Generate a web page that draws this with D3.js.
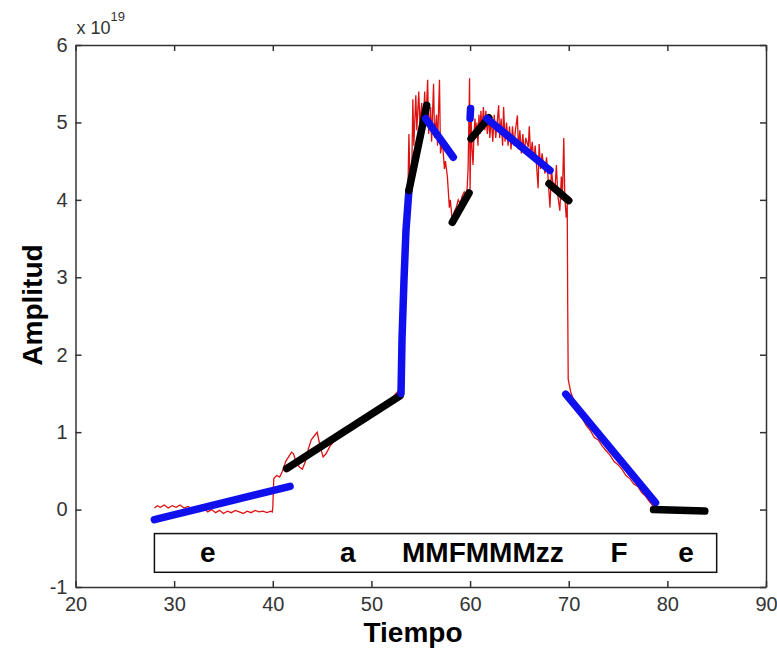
<!DOCTYPE html>
<html>
<head>
<meta charset="utf-8">
<script src="https://cdn.jsdelivr.net/npm/d3@7"></script>
<style>
  body { margin: 0; background: #fff; }
  text { font-family: "Liberation Sans", Arial, sans-serif; }
</style>
</head>
<body>
<svg id="chart" width="777" height="659"></svg>
<script>
// Axis ticks
const xTicks = [20, 30, 40, 50, 60, 70, 80, 90];
const yTicks = [-1, 0, 1, 2, 3, 4, 5, 6];

// Raw signal (Tiempo, Amplitud x 1e19)
const signal = [
  [28.0, 0.02], [28.3, 0.05], [28.6, 0.03], [29.0, 0.06], [29.4, 0.02], [29.8, 0.05],
  [30.2, 0.03], [30.6, 0.06], [31.0, 0.02], [31.4, 0.04], [31.8, 0.01], [32.2, 0.03],
  [32.6, 0.0], [33.0, 0.02], [33.4, -0.03], [33.8, 0.0], [34.2, -0.04], [34.6, -0.01],
  [35.0, -0.05], [35.4, -0.02], [35.8, -0.04], [36.2, -0.01], [36.6, -0.03], [37.0, -0.05],
  [37.4, -0.02], [37.8, -0.04], [38.2, -0.01], [38.6, -0.03], [39.0, -0.02], [39.4, -0.04],
  [39.8, -0.02], [39.95, -0.03], [40.0, 0.02], [40.1, 0.40], [40.4, 0.44], [40.7, 0.42],
  [41.0, 0.50], [41.3, 0.62], [41.6, 0.68], [41.9, 0.74], [42.1, 0.72], [42.4, 0.60],
  [42.7, 0.55], [43.0, 0.52], [43.3, 0.62], [43.6, 0.78], [43.9, 0.90], [44.2, 0.95],
  [44.5, 1.00], [44.8, 0.82], [45.1, 0.68], [45.4, 0.72], [45.8, 0.82], [46.2, 0.88],
  [46.6, 0.92], [47.0, 0.98], [47.5, 1.03], [48.0, 1.08], [48.5, 1.11], [49.0, 1.15],
  [49.5, 1.20], [50.0, 1.25], [50.5, 1.29], [51.0, 1.33], [51.5, 1.38], [52.0, 1.43],
  [52.5, 1.50], [52.9, 1.56], [53.0, 1.70], [53.1, 2.2], [53.2, 2.8], [53.3, 3.3],
  [53.45, 3.8], [53.6, 4.1], [53.7, 4.10], [53.8, 4.85], [53.9, 4.25], [54.1, 4.45],
  [54.2, 5.30], [54.3, 4.70], [54.5, 5.35], [54.6, 4.90], [54.8, 5.40], [54.9, 5.00],
  [55.1, 5.25], [55.2, 4.80], [55.4, 5.40], [55.5, 4.95], [55.7, 5.55], [55.8, 4.85],
  [56.0, 5.20], [56.1, 4.75], [56.3, 5.50], [56.4, 4.80], [56.6, 5.10], [56.7, 4.70],
  [56.9, 5.55], [57.0, 4.60], [57.2, 4.75], [57.4, 4.40], [57.5, 4.50], [57.7, 4.30],
  [57.9, 3.90], [58.0, 4.00], [58.2, 3.72], [58.4, 3.85], [58.6, 3.90], [58.8, 4.00],
  [59.0, 3.95], [59.2, 4.05], [59.4, 4.10], [59.6, 4.00], [59.7, 4.15], [59.8, 4.40],
  [59.95, 5.57], [60.0, 4.10], [60.1, 5.10], [60.2, 4.65], [60.3, 4.45], [60.4, 4.85],
  [60.5, 5.05], [60.6, 4.80], [60.7, 5.00], [60.8, 4.70], [60.9, 5.10], [61.0, 4.85],
  [61.1, 5.15], [61.2, 4.90], [61.35, 5.20], [61.5, 4.90], [61.6, 5.15], [61.75, 4.85],
  [61.9, 5.10], [62.0, 4.80], [62.15, 5.05], [62.3, 4.75], [62.45, 5.10], [62.6, 4.80],
  [62.75, 5.00], [62.9, 5.22], [63.0, 4.80], [63.15, 5.05], [63.3, 4.70], [63.4, 5.20],
  [63.55, 4.75], [63.7, 5.00], [63.85, 4.70], [64.0, 4.95], [64.15, 4.65], [64.3, 4.95],
  [64.45, 4.70], [64.6, 4.90], [64.8, 5.09], [64.9, 4.65], [65.05, 4.90], [65.2, 4.60],
  [65.35, 4.85], [65.5, 4.60], [65.65, 4.80], [65.9, 4.68], [66.0, 4.95], [66.15, 4.55],
  [66.3, 4.75], [66.45, 4.50], [66.6, 4.70], [66.9, 4.15], [67.0, 4.72], [67.15, 4.40],
  [67.3, 4.60], [67.45, 4.45], [67.6, 4.34], [67.75, 4.55], [67.9, 4.30], [68.1, 3.90],
  [68.25, 4.40], [68.4, 4.20], [68.6, 4.12], [68.75, 4.45], [68.9, 4.05], [69.1, 3.86],
  [69.25, 4.30], [69.35, 4.00], [69.5, 4.80], [69.6, 4.05], [69.75, 3.77], [69.85, 3.95],
  [69.9, 2.60], [69.95, 1.68], [70.2, 1.52], [70.6, 1.38], [71.0, 1.24], [71.4, 1.17],
  [71.8, 1.08], [72.2, 1.02], [72.6, 0.93], [73.0, 0.90], [73.4, 0.82], [73.8, 0.76],
  [74.2, 0.70], [74.6, 0.62], [75.0, 0.58], [75.4, 0.52], [75.8, 0.44], [76.2, 0.40],
  [76.6, 0.33], [77.0, 0.30], [77.4, 0.22], [77.8, 0.17], [78.2, 0.10], [78.6, 0.04],
  [79.0, 0.0], [80.0, 0.0], [81.0, -0.01], [82.0, 0.0], [83.0, -0.01], [83.8, -0.02]
];

// Fitted segments, alternating blue / black
const segmentColors = ["blue", "black", "blue", "black", "blue", "black", "blue", "black", "blue", "black", "blue", "black"];
const segments = [
  [[28.0, -0.13], [41.75, 0.30]],
  [[41.4, 0.53], [52.9, 1.47]],
  [[53.0, 1.50], [53.1, 2.2], [53.3, 2.96], [53.5, 3.6], [53.8, 4.12]],
  [[53.8, 4.12], [55.6, 5.22]],
  [[55.5, 5.05], [58.3, 4.55]],
  [[58.2, 3.71], [59.9, 4.09]],
  [[60.0, 5.05], [60.05, 5.18]],
  [[60.1, 4.79], [61.9, 5.06]],
  [[61.7, 5.05], [68.1, 4.38]],
  [[68.0, 4.21], [70.0, 3.99]],
  [[69.7, 1.49], [78.8, 0.09]],
  [[78.6, 0.0], [83.8, -0.02]]
];

// Label strip under the curve
const stripBox = { x0: 28, x1: 85.0, y0: -0.31, y1: -0.81 };
const stripLabels = ["e", "a", "MMFMMMzz", "F", "e"];
const stripLabelX = [33.4, 47.6, 61.3, 75.1, 81.9];

const svg = d3.select("#chart");
const plotLeft = 75.5, plotRight = 766, plotTop = 45, plotBottom = 587;

const xScale = d3.scaleLinear().domain([20, 90]).range([plotLeft, plotRight]);
const yScale = d3.scaleLinear().domain([-1, 6]).range([plotBottom, plotTop]);

/**
 * Draws the box frame with inward ticks on the four sides.
 */
function drawAxes() {
  const tickFont = (g) => g.selectAll("text")
    .attr("font-size", 20)
    .attr("fill", "#333");

  svg.append("g")
    .attr("transform", `translate(0,${plotBottom})`)
    .call(d3.axisBottom(xScale).tickValues(xTicks).tickFormat((d) => String(d))
      .tickSizeInner(-6).tickSizeOuter(0).tickPadding(10))
    .call(tickFont);

  svg.append("g")
    .attr("transform", `translate(0,${plotTop})`)
    .call(d3.axisTop(xScale).tickValues(xTicks).tickSizeInner(-6).tickSizeOuter(0).tickFormat(""));

  svg.append("g")
    .attr("transform", `translate(${plotLeft},0)`)
    .call(d3.axisLeft(yScale).tickValues(yTicks).tickFormat((d) => String(d))
      .tickSizeInner(-6).tickSizeOuter(0).tickPadding(8))
    .call(tickFont);

  svg.append("g")
    .attr("transform", `translate(${plotRight},0)`)
    .call(d3.axisRight(yScale).tickValues(yTicks).tickSizeInner(-6).tickSizeOuter(0).tickFormat(""));

  svg.selectAll(".domain, .tick line").attr("stroke", "#333").attr("stroke-width", 1.5);
  svg.selectAll(".tick text").attr("font-family", "'Liberation Sans', Arial, sans-serif");

  // exponent
  const expo = svg.append("text").attr("x", plotLeft + 1).attr("y", 34).attr("fill", "#333");
  expo.append("tspan").attr("font-size", 18).text("x 10");
  expo.append("tspan").attr("font-size", 13).attr("dy", -13).text("19");

  svg.append("text")
    .attr("x", 413)
    .attr("y", 642)
    .attr("text-anchor", "middle")
    .attr("font-size", 28)
    .attr("font-weight", "bold")
    .text("Tiempo");

  svg.append("text")
    .attr("transform", "translate(42,305) rotate(-90)")
    .attr("text-anchor", "middle")
    .attr("font-size", 28)
    .attr("font-weight", "bold")
    .text("Amplitud");
}

/**
 * Draws the raw signal and the fitted segments on top of it.
 */
function drawLines() {
  const line = d3.line().x((d) => xScale(d[0])).y((d) => yScale(d[1]));

  svg.append("path")
    .datum(signal)
    .attr("d", line)
    .attr("fill", "none")
    .attr("stroke", "#dd1111")
    .attr("stroke-width", 1.3);

  svg.selectAll(".segment")
    .data(segments)
    .join("path")
    .attr("class", "segment")
    .attr("d", line)
    .attr("fill", "none")
    .attr("stroke", (d, i) => (segmentColors[i] === "blue" ? "#1010ee" : "#000"))
    .attr("stroke-width", 7.5)
    .attr("stroke-linecap", "round")
    .attr("stroke-linejoin", "round");
}

/**
 * Draws the framed strip of labels below the curve.
 */
function drawStrip() {
  svg.append("rect")
    .attr("x", xScale(stripBox.x0))
    .attr("y", yScale(stripBox.y0))
    .attr("width", xScale(stripBox.x1) - xScale(stripBox.x0))
    .attr("height", yScale(stripBox.y1) - yScale(stripBox.y0))
    .attr("fill", "#fff")
    .attr("stroke", "#111")
    .attr("stroke-width", 1.5);

  svg.selectAll(".strip-label")
    .data(stripLabels)
    .join("text")
    .attr("class", "strip-label")
    .attr("x", (d, i) => xScale(stripLabelX[i]))
    .attr("y", yScale((stripBox.y0 + stripBox.y1) / 2) + 9)
    .attr("text-anchor", "middle")
    .attr("font-size", 28)
    .attr("font-weight", "bold")
    .text((d) => d);
}

drawAxes();
drawLines();
drawStrip();
</script>
</body>
</html>
